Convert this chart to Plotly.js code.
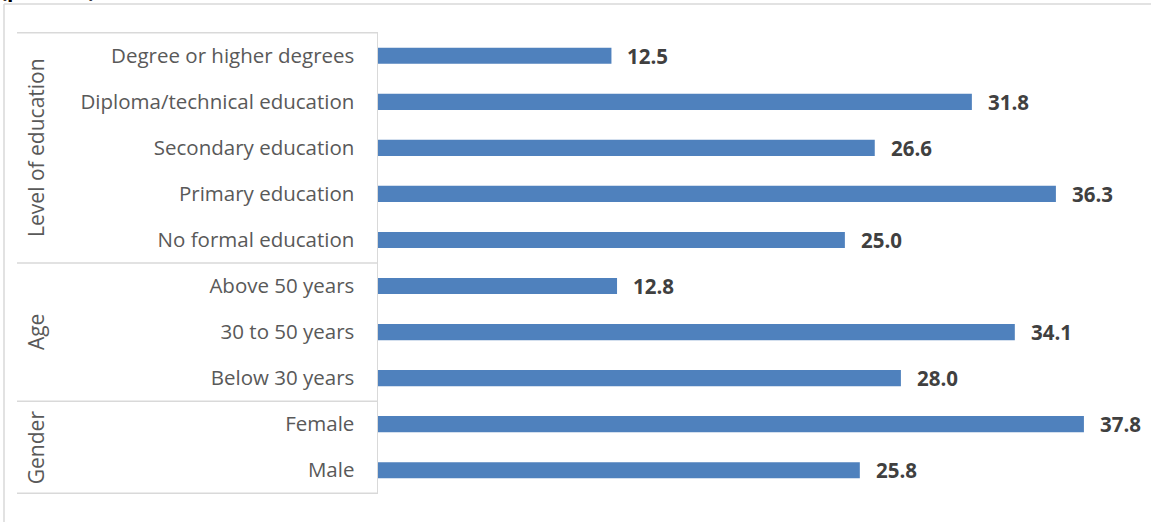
<!DOCTYPE html>
<html>
<head>
<meta charset="utf-8">
<script src="https://cdn.plot.ly/plotly-3.0.1.min.js"></script>
<style>
  html, body { margin: 0; padding: 0; background: #ffffff; }
  #chart { width: 1151px; height: 522px; }
</style>
</head>
<body>
<div id="chart"></div>
<script>
// Categories, top to bottom
const categories = [
  "Degree or higher degrees",
  "Diploma/technical education",
  "Secondary education",
  "Primary education",
  "No formal education",
  "Above 50 years",
  "30 to 50 years",
  "Below 30 years",
  "Female",
  "Male"
];
// Percent values for each category
const values = [12.5, 31.8, 26.6, 36.3, 25.0, 12.8, 34.1, 28.0, 37.8, 25.8];

// Grouping of categories (first index, last index)
const groupNames = ["Level of education", "Age", "Gender"];
const groupStart = [0, 5, 8];
const groupEnd = [4, 7, 9];

const W = 1151, H = 522;
const M = { l: 378, r: 26, t: 32, b: 28 };
const plotW = W - M.l - M.r, plotH = H - M.t - M.b;
const px2x = p => (p - M.l) / plotW;          // pixel -> paper x
const py2y = p => (H - M.b - p) / plotH;      // pixel -> paper y

const gridColor = "#d9d9d9";
const textColor = "#595959";
const FONT = "Open Sans, sans-serif";

const trace = {
  type: "bar",
  orientation: "h",
  y: categories,
  x: values,
  marker: { color: "#4f81bd" },
  hoverinfo: "none"
};

const annotations = [];
// Value labels
values.forEach((v, i) => {
  annotations.push({
    x: v, y: categories[i], xref: "x", yref: "y",
    text: v.toFixed(1), showarrow: false,
    xanchor: "left", xshift: 14,
    font: { family: FONT, size: 20.5, color: "#404040", weight: "bold" }
  });
});
// Group labels
groupNames.forEach((g, k) => {
  annotations.push({
    x: px2x(36), xref: "paper",
    y: (groupStart[k] + groupEnd[k]) / 2, yref: "y",
    text: g, textangle: -90, showarrow: false,
    xanchor: "center", yanchor: "middle",
    font: { family: FONT, size: 21, color: textColor }
  });
});
// Unit note at the top-left corner
annotations.push({
  x: px2x(-2), xref: "paper", y: py2y(5), yref: "paper",
  text: "(percent)", showarrow: false,
  xanchor: "left", yanchor: "bottom",
  font: { family: FONT, size: 21, color: "#000000", weight: "bold" }
});

const shapes = [];
// Group bracket lines at group boundaries
const boundaries = [-0.5].concat(groupEnd.map(e => e + 0.5));
boundaries.forEach(b => {
  shapes.push({
    type: "line", xref: "paper", yref: "y",
    x0: px2x(17), x1: 0, y0: b, y1: b,
    line: { color: gridColor, width: 1.5 }
  });
});
// Outer chart frame (top and left edges)
shapes.push({
  type: "line", xref: "paper", yref: "paper",
  x0: px2x(4), x1: px2x(W + 5), y0: py2y(4), y1: py2y(4),
  line: { color: gridColor, width: 1.5 }
});
shapes.push({
  type: "line", xref: "paper", yref: "paper",
  x0: px2x(4), x1: px2x(4), y0: py2y(4), y1: py2y(H + 5),
  line: { color: gridColor, width: 1.5 }
});

const layout = {
  width: W, height: H,
  margin: M,
  paper_bgcolor: "#ffffff",
  plot_bgcolor: "#ffffff",
  showlegend: false,
  bargap: 0.65,
  xaxis: {
    range: [0, 40],
    visible: false,
    fixedrange: true
  },
  yaxis: {
    type: "category",
    categoryorder: "array",
    categoryarray: categories,
    autorange: "reversed",
    showline: true, linecolor: gridColor, linewidth: 1.5,
    showgrid: false, zeroline: false,
    ticks: "outside", ticklen: 18, tickcolor: "rgba(0,0,0,0)",
    tickfont: { family: FONT, size: 20.5, color: textColor },
    fixedrange: true
  },
  annotations: annotations,
  shapes: shapes
};

Plotly.newPlot("chart", [trace], layout, { displayModeBar: false, staticPlot: true });
</script>
</body>
</html>
